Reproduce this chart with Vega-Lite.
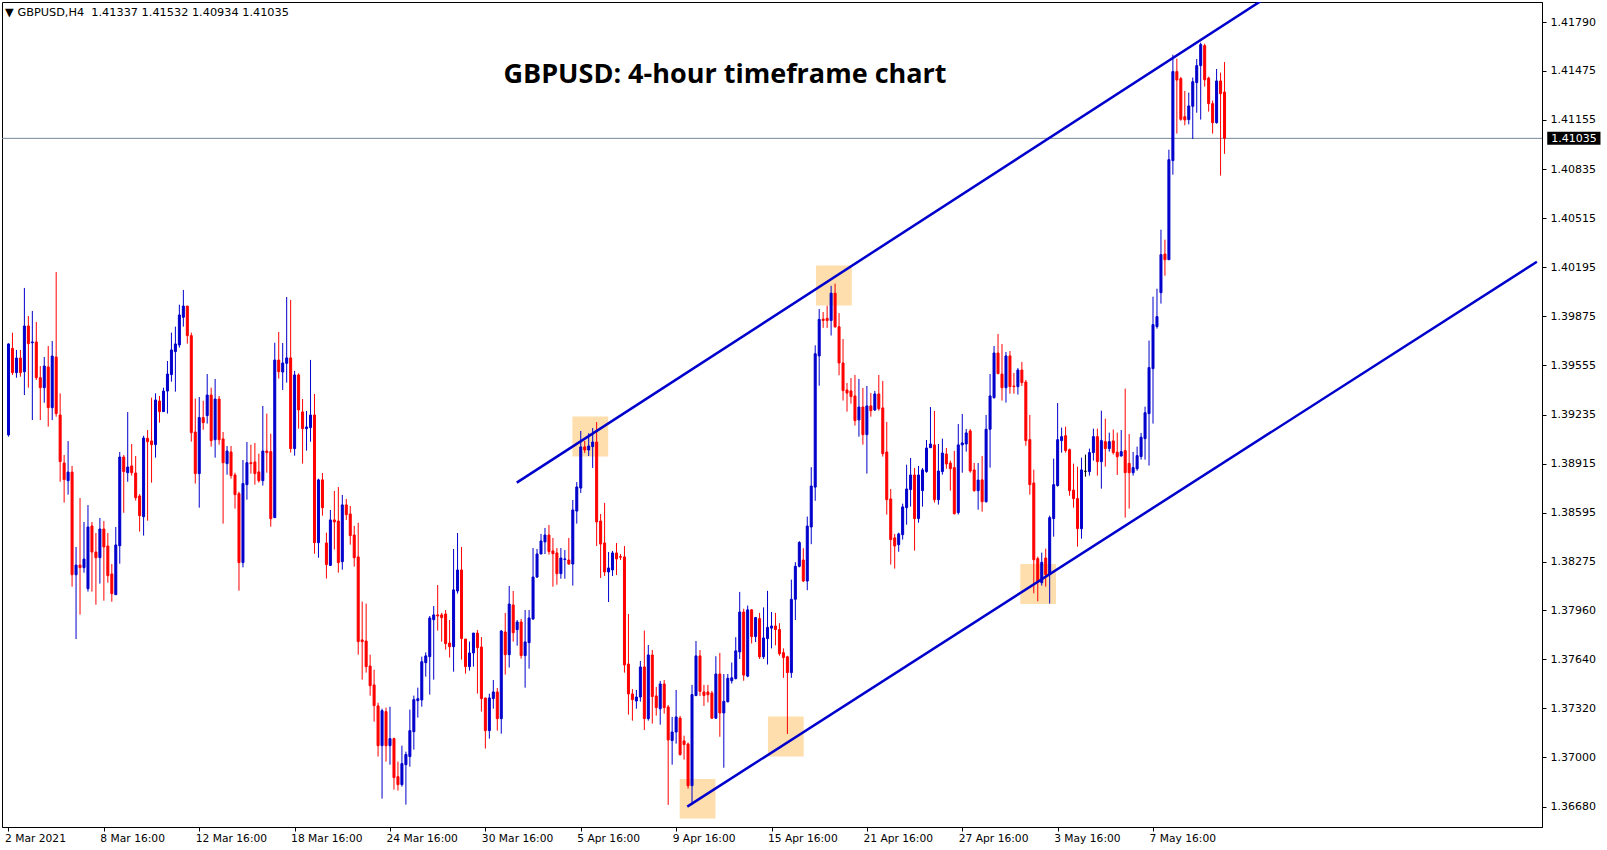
{
"$schema":"https://vega.github.io/schema/vega-lite/v6.json",
"width":1540,"height":825,
"padding":{"left":2,"top":2,"right":65,"bottom":23},
"autosize":{"type":"none"},
"background":"white",
"config":{"view":{"stroke":"#000000","strokeWidth":1},
"axis":{"labelFont":"DejaVu Sans","labelFontSize":11,"labelColor":"#000000","domainColor":"#000000","tickColor":"#000000","tickSize":4,"grid":false,"title":null,"labelOverlap":false,"labelFlush":false,"labelBound":false}},
"datasets":{
"candles":[
{"i":0,"o":1.39102,"h":1.39699,"l":1.39091,"c":1.39695},
{"i":1,"o":1.39666,"h":1.39768,"l":1.39493,"c":1.39508},
{"i":2,"o":1.39508,"h":1.39656,"l":1.39475,"c":1.39603},
{"i":3,"o":1.39603,"h":1.39656,"l":1.39482,"c":1.39508},
{"i":4,"o":1.39514,"h":1.40060,"l":1.39362,"c":1.39812},
{"i":5,"o":1.39812,"h":1.39877,"l":1.39410,"c":1.39697},
{"i":6,"o":1.39703,"h":1.39910,"l":1.39199,"c":1.39708},
{"i":7,"o":1.39708,"h":1.39838,"l":1.39460,"c":1.39475},
{"i":8,"o":1.39475,"h":1.39551,"l":1.39199,"c":1.39410},
{"i":9,"o":1.39410,"h":1.39610,"l":1.39312,"c":1.39551},
{"i":10,"o":1.39545,"h":1.39682,"l":1.39156,"c":1.39280},
{"i":11,"o":1.39280,"h":1.39714,"l":1.39199,"c":1.39616},
{"i":12,"o":1.39610,"h":1.40164,"l":1.39221,"c":1.39241},
{"i":13,"o":1.39232,"h":1.39373,"l":1.38797,"c":1.38928},
{"i":14,"o":1.38919,"h":1.38971,"l":1.38661,"c":1.38811},
{"i":15,"o":1.38804,"h":1.39062,"l":1.38713,"c":1.38860},
{"i":16,"o":1.38860,"h":1.38900,"l":1.38113,"c":1.38191},
{"i":17,"o":1.38191,"h":1.38372,"l":1.37772,"c":1.38254},
{"i":18,"o":1.38254,"h":1.38691,"l":1.37931,"c":1.38237},
{"i":19,"o":1.38237,"h":1.38535,"l":1.38204,"c":1.38293},
{"i":20,"o":1.38100,"h":1.38645,"l":1.38081,"c":1.38502},
{"i":21,"o":1.38509,"h":1.38535,"l":1.38081,"c":1.38339},
{"i":22,"o":1.38339,"h":1.38463,"l":1.37996,"c":1.38302},
{"i":23,"o":1.38302,"h":1.38561,"l":1.38133,"c":1.38489},
{"i":24,"o":1.38489,"h":1.38541,"l":1.38022,"c":1.38372},
{"i":25,"o":1.38378,"h":1.38463,"l":1.38139,"c":1.38185},
{"i":26,"o":1.38196,"h":1.38261,"l":1.38015,"c":1.38068},
{"i":27,"o":1.38061,"h":1.38502,"l":1.38061,"c":1.38385},
{"i":28,"o":1.38380,"h":1.38991,"l":1.38263,"c":1.38958},
{"i":29,"o":1.38958,"h":1.38971,"l":1.38595,"c":1.38863},
{"i":30,"o":1.38856,"h":1.39251,"l":1.38797,"c":1.38893},
{"i":31,"o":1.38900,"h":1.39043,"l":1.38837,"c":1.38856},
{"i":32,"o":1.38854,"h":1.38965,"l":1.38674,"c":1.38693},
{"i":33,"o":1.38704,"h":1.38717,"l":1.38472,"c":1.38576},
{"i":34,"o":1.38569,"h":1.39097,"l":1.38446,"c":1.39082},
{"i":35,"o":1.39080,"h":1.39134,"l":1.38543,"c":1.39058},
{"i":36,"o":1.39063,"h":1.39345,"l":1.38791,"c":1.39039},
{"i":37,"o":1.39039,"h":1.39373,"l":1.38954,"c":1.39330},
{"i":38,"o":1.39323,"h":1.39356,"l":1.39182,"c":1.39254},
{"i":39,"o":1.39254,"h":1.39410,"l":1.39254,"c":1.39388},
{"i":40,"o":1.39388,"h":1.39584,"l":1.39241,"c":1.39499},
{"i":41,"o":1.39495,"h":1.39769,"l":1.39449,"c":1.39656},
{"i":42,"o":1.39645,"h":1.39808,"l":1.39384,"c":1.39695},
{"i":43,"o":1.39688,"h":1.39951,"l":1.39671,"c":1.39884},
{"i":44,"o":1.39869,"h":1.40047,"l":1.39808,"c":1.39942},
{"i":45,"o":1.39942,"h":1.39942,"l":1.39697,"c":1.39749},
{"i":46,"o":1.39749,"h":1.39769,"l":1.39058,"c":1.39117},
{"i":47,"o":1.39121,"h":1.39339,"l":1.38785,"c":1.38850},
{"i":48,"o":1.38850,"h":1.39349,"l":1.38628,"c":1.39215},
{"i":49,"o":1.39215,"h":1.39325,"l":1.39136,"c":1.39182},
{"i":50,"o":1.39228,"h":1.39499,"l":1.39176,"c":1.39362},
{"i":51,"o":1.39362,"h":1.39410,"l":1.39026,"c":1.39065},
{"i":52,"o":1.39071,"h":1.39467,"l":1.38954,"c":1.39336},
{"i":53,"o":1.39336,"h":1.39356,"l":1.39039,"c":1.39071},
{"i":54,"o":1.39076,"h":1.39121,"l":1.38524,"c":1.38921},
{"i":55,"o":1.38915,"h":1.39030,"l":1.38843,"c":1.38997},
{"i":56,"o":1.38991,"h":1.39030,"l":1.38817,"c":1.38837},
{"i":57,"o":1.38841,"h":1.38856,"l":1.38622,"c":1.38713},
{"i":58,"o":1.38719,"h":1.38732,"l":1.38087,"c":1.38270},
{"i":59,"o":1.38270,"h":1.38939,"l":1.38239,"c":1.38785},
{"i":60,"o":1.38778,"h":1.39056,"l":1.38680,"c":1.38921},
{"i":61,"o":1.38921,"h":1.39039,"l":1.38850,"c":1.38915},
{"i":62,"o":1.38926,"h":1.39050,"l":1.38778,"c":1.38850},
{"i":63,"o":1.38861,"h":1.38980,"l":1.38791,"c":1.38804},
{"i":64,"o":1.38804,"h":1.39291,"l":1.38772,"c":1.38997},
{"i":65,"o":1.38997,"h":1.39241,"l":1.38856,"c":1.38987},
{"i":66,"o":1.38993,"h":1.39110,"l":1.38504,"c":1.38556},
{"i":67,"o":1.38563,"h":1.39703,"l":1.38563,"c":1.39590},
{"i":68,"o":1.39590,"h":1.39773,"l":1.39469,"c":1.39514},
{"i":69,"o":1.39512,"h":1.39701,"l":1.39395,"c":1.39571},
{"i":70,"o":1.39569,"h":1.40001,"l":1.39443,"c":1.39604},
{"i":71,"o":1.39604,"h":1.39982,"l":1.38987,"c":1.39013},
{"i":72,"o":1.39013,"h":1.39519,"l":1.38967,"c":1.39493},
{"i":73,"o":1.39493,"h":1.39504,"l":1.39143,"c":1.39265},
{"i":74,"o":1.39252,"h":1.39336,"l":1.38915,"c":1.39143},
{"i":75,"o":1.39143,"h":1.39258,"l":1.39000,"c":1.39154},
{"i":76,"o":1.39150,"h":1.39591,"l":1.39058,"c":1.39232},
{"i":77,"o":1.39232,"h":1.39369,"l":1.38328,"c":1.38400},
{"i":78,"o":1.38400,"h":1.38817,"l":1.38302,"c":1.38809},
{"i":79,"o":1.38809,"h":1.38854,"l":1.38576,"c":1.38628},
{"i":80,"o":1.38398,"h":1.38465,"l":1.38166,"c":1.38257},
{"i":81,"o":1.38252,"h":1.38613,"l":1.38248,"c":1.38548},
{"i":82,"o":1.38548,"h":1.38737,"l":1.38355,"c":1.38535},
{"i":83,"o":1.38541,"h":1.38763,"l":1.38205,"c":1.38270},
{"i":84,"o":1.38276,"h":1.38711,"l":1.38224,"c":1.38646},
{"i":85,"o":1.38646,"h":1.38685,"l":1.38548,"c":1.38583},
{"i":86,"o":1.38587,"h":1.38639,"l":1.38387,"c":1.38446},
{"i":87,"o":1.38450,"h":1.38509,"l":1.38244,"c":1.38302},
{"i":88,"o":1.38307,"h":1.38530,"l":1.37670,"c":1.37755},
{"i":89,"o":1.37766,"h":1.38016,"l":1.37507,"c":1.37755},
{"i":90,"o":1.37759,"h":1.38003,"l":1.37553,"c":1.37592},
{"i":91,"o":1.37596,"h":1.37670,"l":1.37403,"c":1.37468},
{"i":92,"o":1.37473,"h":1.37572,"l":1.37234,"c":1.37338},
{"i":93,"o":1.37336,"h":1.37357,"l":1.37006,"c":1.37077},
{"i":94,"o":1.37077,"h":1.37318,"l":1.36732,"c":1.37305},
{"i":95,"o":1.37299,"h":1.37325,"l":1.36973,"c":1.37077},
{"i":96,"o":1.37077,"h":1.37331,"l":1.36953,"c":1.37123},
{"i":97,"o":1.37123,"h":1.37129,"l":1.36790,"c":1.36869},
{"i":98,"o":1.36875,"h":1.36973,"l":1.36784,"c":1.36823},
{"i":99,"o":1.36823,"h":1.37077,"l":1.36810,"c":1.36960},
{"i":100,"o":1.36953,"h":1.37038,"l":1.36693,"c":1.37019},
{"i":101,"o":1.37006,"h":1.37312,"l":1.36940,"c":1.37175},
{"i":102,"o":1.37168,"h":1.37403,"l":1.37051,"c":1.37377},
{"i":103,"o":1.37370,"h":1.37455,"l":1.37260,"c":1.37383},
{"i":104,"o":1.37375,"h":1.37657,"l":1.37331,"c":1.37624},
{"i":105,"o":1.37618,"h":1.37685,"l":1.37527,"c":1.37662},
{"i":106,"o":1.37657,"h":1.37922,"l":1.37410,"c":1.37909},
{"i":107,"o":1.37898,"h":1.37987,"l":1.37507,"c":1.37929},
{"i":108,"o":1.37929,"h":1.38124,"l":1.37827,"c":1.37922},
{"i":109,"o":1.37929,"h":1.37942,"l":1.37755,"c":1.37911},
{"i":110,"o":1.37935,"h":1.37961,"l":1.37703,"c":1.37742},
{"i":111,"o":1.37746,"h":1.37896,"l":1.37651,"c":1.37722},
{"i":112,"o":1.37722,"h":1.38359,"l":1.37559,"c":1.38092},
{"i":113,"o":1.38085,"h":1.38463,"l":1.38068,"c":1.38222},
{"i":114,"o":1.38222,"h":1.38372,"l":1.37638,"c":1.37775},
{"i":115,"o":1.37772,"h":1.37772,"l":1.37546,"c":1.37592},
{"i":116,"o":1.37592,"h":1.37755,"l":1.37566,"c":1.37681},
{"i":117,"o":1.37681,"h":1.37811,"l":1.37592,"c":1.37811},
{"i":118,"o":1.37811,"h":1.37831,"l":1.37416,"c":1.37716},
{"i":119,"o":1.37720,"h":1.37785,"l":1.37299,"c":1.37384},
{"i":120,"o":1.37388,"h":1.37388,"l":1.37058,"c":1.37175},
{"i":121,"o":1.37175,"h":1.37416,"l":1.37123,"c":1.37388},
{"i":122,"o":1.37384,"h":1.37505,"l":1.37318,"c":1.37427},
{"i":123,"o":1.37427,"h":1.37453,"l":1.37175,"c":1.37253},
{"i":124,"o":1.37253,"h":1.37831,"l":1.37155,"c":1.37824},
{"i":125,"o":1.37818,"h":1.37942,"l":1.37540,"c":1.37670},
{"i":126,"o":1.37670,"h":1.38118,"l":1.37586,"c":1.38000},
{"i":127,"o":1.37994,"h":1.38085,"l":1.37755,"c":1.37813},
{"i":128,"o":1.37833,"h":1.37896,"l":1.37729,"c":1.37883},
{"i":129,"o":1.37883,"h":1.37903,"l":1.37644,"c":1.37664},
{"i":130,"o":1.37664,"h":1.37961,"l":1.37455,"c":1.37753},
{"i":131,"o":1.37748,"h":1.37961,"l":1.37579,"c":1.37909},
{"i":132,"o":1.37903,"h":1.38365,"l":1.37896,"c":1.38176},
{"i":133,"o":1.38176,"h":1.38359,"l":1.38170,"c":1.38326},
{"i":134,"o":1.38326,"h":1.38457,"l":1.38326,"c":1.38411},
{"i":135,"o":1.38405,"h":1.38496,"l":1.38326,"c":1.38450},
{"i":136,"o":1.38450,"h":1.38515,"l":1.38322,"c":1.38342},
{"i":137,"o":1.38346,"h":1.38431,"l":1.38113,"c":1.38328},
{"i":138,"o":1.38333,"h":1.38365,"l":1.38126,"c":1.38198},
{"i":139,"o":1.38198,"h":1.38365,"l":1.38165,"c":1.38300},
{"i":140,"o":1.38290,"h":1.38352,"l":1.38165,"c":1.38294},
{"i":141,"o":1.38287,"h":1.38431,"l":1.38255,"c":1.38261},
{"i":142,"o":1.38261,"h":1.38678,"l":1.38120,"c":1.38613},
{"i":143,"o":1.38606,"h":1.38795,"l":1.38524,"c":1.38763},
{"i":144,"o":1.38756,"h":1.39128,"l":1.38724,"c":1.39024},
{"i":145,"o":1.39024,"h":1.39063,"l":1.38984,"c":1.39004},
{"i":146,"o":1.39004,"h":1.39113,"l":1.38965,"c":1.39030},
{"i":147,"o":1.39026,"h":1.39147,"l":1.38887,"c":1.39056},
{"i":148,"o":1.39056,"h":1.39186,"l":1.38378,"c":1.38535},
{"i":149,"o":1.38541,"h":1.38587,"l":1.38170,"c":1.38391},
{"i":150,"o":1.38398,"h":1.38659,"l":1.38183,"c":1.38209},
{"i":151,"o":1.38209,"h":1.38339,"l":1.38013,"c":1.38235},
{"i":152,"o":1.38222,"h":1.38346,"l":1.38183,"c":1.38333},
{"i":153,"o":1.38333,"h":1.38398,"l":1.38189,"c":1.38294},
{"i":154,"o":1.38309,"h":1.38326,"l":1.38287,"c":1.38305},
{"i":155,"o":1.38307,"h":1.38378,"l":1.37553,"c":1.37603},
{"i":156,"o":1.37609,"h":1.37935,"l":1.37279,"c":1.37414},
{"i":157,"o":1.37414,"h":1.37446,"l":1.37240,"c":1.37377},
{"i":158,"o":1.37368,"h":1.37440,"l":1.37318,"c":1.37394},
{"i":159,"o":1.37394,"h":1.37629,"l":1.37364,"c":1.37590},
{"i":160,"o":1.37590,"h":1.37827,"l":1.37179,"c":1.37253},
{"i":161,"o":1.37253,"h":1.37733,"l":1.37240,"c":1.37668},
{"i":162,"o":1.37668,"h":1.37701,"l":1.37221,"c":1.37397},
{"i":163,"o":1.37401,"h":1.37460,"l":1.37273,"c":1.37325},
{"i":164,"o":1.37318,"h":1.37499,"l":1.37214,"c":1.37479},
{"i":165,"o":1.37479,"h":1.37505,"l":1.37286,"c":1.37325},
{"i":166,"o":1.37329,"h":1.37342,"l":1.36691,"c":1.37114},
{"i":167,"o":1.37110,"h":1.37264,"l":1.36953,"c":1.37166},
{"i":168,"o":1.37166,"h":1.37440,"l":1.37090,"c":1.37264},
{"i":169,"o":1.37257,"h":1.37271,"l":1.37012,"c":1.37019},
{"i":170,"o":1.37108,"h":1.37142,"l":1.36986,"c":1.37084},
{"i":171,"o":1.37088,"h":1.37097,"l":1.36797,"c":1.36816},
{"i":172,"o":1.36816,"h":1.37473,"l":1.36691,"c":1.37410},
{"i":173,"o":1.37403,"h":1.37759,"l":1.37403,"c":1.37662},
{"i":174,"o":1.37662,"h":1.37700,"l":1.37400,"c":1.37430},
{"i":175,"o":1.37427,"h":1.37473,"l":1.37336,"c":1.37404},
{"i":176,"o":1.37427,"h":1.37473,"l":1.37359,"c":1.37409},
{"i":177,"o":1.37420,"h":1.37434,"l":1.37251,"c":1.37256},
{"i":178,"o":1.37256,"h":1.37660,"l":1.37251,"c":1.37544},
{"i":179,"o":1.37544,"h":1.37681,"l":1.37135,"c":1.37290},
{"i":180,"o":1.37290,"h":1.37544,"l":1.36933,"c":1.37366},
{"i":181,"o":1.37363,"h":1.37544,"l":1.37359,"c":1.37516},
{"i":182,"o":1.37500,"h":1.37619,"l":1.37482,"c":1.37519},
{"i":183,"o":1.37514,"h":1.37784,"l":1.37509,"c":1.37695},
{"i":184,"o":1.37688,"h":1.38079,"l":1.37642,"c":1.37948},
{"i":185,"o":1.37948,"h":1.37969,"l":1.37500,"c":1.37537},
{"i":186,"o":1.37530,"h":1.37990,"l":1.37523,"c":1.37962},
{"i":187,"o":1.37962,"h":1.37967,"l":1.37743,"c":1.37788},
{"i":188,"o":1.37788,"h":1.37916,"l":1.37752,"c":1.37912},
{"i":189,"o":1.37905,"h":1.37942,"l":1.37642,"c":1.37656},
{"i":190,"o":1.37656,"h":1.37978,"l":1.37642,"c":1.37779},
{"i":191,"o":1.37775,"h":1.38086,"l":1.37606,"c":1.37848},
{"i":192,"o":1.37843,"h":1.37948,"l":1.37711,"c":1.37857},
{"i":193,"o":1.37857,"h":1.37942,"l":1.37731,"c":1.37834},
{"i":194,"o":1.37834,"h":1.37875,"l":1.37663,"c":1.37676},
{"i":195,"o":1.37683,"h":1.37711,"l":1.37519,"c":1.37651},
{"i":196,"o":1.37656,"h":1.37663,"l":1.37153,"c":1.37553},
{"i":197,"o":1.37553,"h":1.38159,"l":1.37519,"c":1.38031},
{"i":198,"o":1.38031,"h":1.38273,"l":1.37896,"c":1.38246},
{"i":199,"o":1.38246,"h":1.38410,"l":1.38239,"c":1.38401},
{"i":200,"o":1.38287,"h":1.38364,"l":1.38143,"c":1.38150},
{"i":201,"o":1.38150,"h":1.38570,"l":1.38090,"c":1.38508},
{"i":202,"o":1.38502,"h":1.38892,"l":1.38390,"c":1.38769},
{"i":203,"o":1.38762,"h":1.39686,"l":1.38673,"c":1.39631},
{"i":204,"o":1.39617,"h":1.39923,"l":1.39423,"c":1.39855},
{"i":205,"o":1.39857,"h":1.39903,"l":1.39800,"c":1.39848},
{"i":206,"o":1.39862,"h":1.39944,"l":1.39800,"c":1.39848},
{"i":207,"o":1.39848,"h":1.40074,"l":1.39750,"c":1.40026},
{"i":208,"o":1.40026,"h":1.40088,"l":1.39800,"c":1.39807},
{"i":209,"o":1.39807,"h":1.39896,"l":1.39491,"c":1.39571},
{"i":210,"o":1.39571,"h":1.39727,"l":1.39326,"c":1.39391},
{"i":211,"o":1.39395,"h":1.39441,"l":1.39254,"c":1.39375},
{"i":212,"o":1.39389,"h":1.39473,"l":1.39306,"c":1.39352},
{"i":213,"o":1.39356,"h":1.39493,"l":1.39163,"c":1.39195},
{"i":214,"o":1.39200,"h":1.39467,"l":1.39091,"c":1.39284},
{"i":215,"o":1.39284,"h":1.39408,"l":1.39039,"c":1.39104},
{"i":216,"o":1.39104,"h":1.39421,"l":1.38850,"c":1.39291},
{"i":217,"o":1.39291,"h":1.39375,"l":1.39221,"c":1.39260},
{"i":218,"o":1.39265,"h":1.39389,"l":1.39258,"c":1.39369},
{"i":219,"o":1.39369,"h":1.39493,"l":1.39260,"c":1.39273},
{"i":220,"o":1.39278,"h":1.39454,"l":1.38961,"c":1.38980},
{"i":221,"o":1.38991,"h":1.39187,"l":1.38583,"c":1.38680},
{"i":222,"o":1.38685,"h":1.38750,"l":1.38257,"c":1.38420},
{"i":223,"o":1.38431,"h":1.38457,"l":1.38231,"c":1.38378},
{"i":224,"o":1.38387,"h":1.38465,"l":1.38341,"c":1.38457},
{"i":225,"o":1.38452,"h":1.38654,"l":1.38420,"c":1.38633},
{"i":226,"o":1.38628,"h":1.38908,"l":1.38517,"c":1.38750},
{"i":227,"o":1.38746,"h":1.38952,"l":1.38635,"c":1.38841},
{"i":228,"o":1.38841,"h":1.38887,"l":1.38348,"c":1.38557},
{"i":229,"o":1.38557,"h":1.38900,"l":1.38530,"c":1.38841},
{"i":230,"o":1.38739,"h":1.38887,"l":1.38635,"c":1.38874},
{"i":231,"o":1.38863,"h":1.39069,"l":1.38856,"c":1.39017},
{"i":232,"o":1.39019,"h":1.39284,"l":1.39019,"c":1.39043},
{"i":233,"o":1.39037,"h":1.39258,"l":1.38661,"c":1.38680},
{"i":234,"o":1.38680,"h":1.39043,"l":1.38648,"c":1.38867},
{"i":235,"o":1.38863,"h":1.39078,"l":1.38843,"c":1.38984},
{"i":236,"o":1.38978,"h":1.39017,"l":1.38882,"c":1.38913},
{"i":237,"o":1.38919,"h":1.38935,"l":1.38739,"c":1.38882},
{"i":238,"o":1.38889,"h":1.38998,"l":1.38583,"c":1.38589},
{"i":239,"o":1.38596,"h":1.39173,"l":1.38583,"c":1.39037},
{"i":240,"o":1.39037,"h":1.39239,"l":1.38856,"c":1.39050},
{"i":241,"o":1.39043,"h":1.39141,"l":1.38993,"c":1.39115},
{"i":242,"o":1.39128,"h":1.39141,"l":1.38856,"c":1.38867},
{"i":243,"o":1.38874,"h":1.38919,"l":1.38732,"c":1.38739},
{"i":244,"o":1.38739,"h":1.38919,"l":1.38615,"c":1.38808},
{"i":245,"o":1.38809,"h":1.38965,"l":1.38602,"c":1.38667},
{"i":246,"o":1.38667,"h":1.39232,"l":1.38661,"c":1.39139},
{"i":247,"o":1.39139,"h":1.39499,"l":1.38889,"c":1.39356},
{"i":248,"o":1.39345,"h":1.39682,"l":1.39339,"c":1.39636},
{"i":249,"o":1.39636,"h":1.39760,"l":1.39497,"c":1.39502},
{"i":250,"o":1.39499,"h":1.39695,"l":1.39326,"c":1.39410},
{"i":251,"o":1.39410,"h":1.39643,"l":1.39313,"c":1.39617},
{"i":252,"o":1.39617,"h":1.39649,"l":1.39371,"c":1.39417},
{"i":253,"o":1.39421,"h":1.39506,"l":1.39371,"c":1.39417},
{"i":254,"o":1.39417,"h":1.39538,"l":1.39365,"c":1.39525},
{"i":255,"o":1.39525,"h":1.39578,"l":1.39421,"c":1.39443},
{"i":256,"o":1.39447,"h":1.39460,"l":1.39032,"c":1.39065},
{"i":257,"o":1.39071,"h":1.39232,"l":1.38713,"c":1.38778},
{"i":258,"o":1.38789,"h":1.38876,"l":1.38070,"c":1.38289},
{"i":259,"o":1.38296,"h":1.38309,"l":1.38018,"c":1.38146},
{"i":260,"o":1.38139,"h":1.38335,"l":1.38120,"c":1.38272},
{"i":261,"o":1.38300,"h":1.38361,"l":1.38113,"c":1.38192},
{"i":262,"o":1.38192,"h":1.38576,"l":1.38003,"c":1.38563},
{"i":263,"o":1.38557,"h":1.38948,"l":1.38439,"c":1.38778},
{"i":264,"o":1.38772,"h":1.39310,"l":1.38765,"c":1.39071},
{"i":265,"o":1.39065,"h":1.39150,"l":1.38987,"c":1.39091},
{"i":266,"o":1.39097,"h":1.39156,"l":1.38987,"c":1.39000},
{"i":267,"o":1.39006,"h":1.39013,"l":1.38706,"c":1.38739},
{"i":268,"o":1.38743,"h":1.38915,"l":1.38628,"c":1.38687},
{"i":269,"o":1.38687,"h":1.38895,"l":1.38374,"c":1.38491},
{"i":270,"o":1.38491,"h":1.38954,"l":1.38426,"c":1.38874},
{"i":271,"o":1.38865,"h":1.38974,"l":1.38830,"c":1.38865},
{"i":272,"o":1.38863,"h":1.39013,"l":1.38837,"c":1.38987},
{"i":273,"o":1.38987,"h":1.39143,"l":1.38935,"c":1.39091},
{"i":274,"o":1.39091,"h":1.39143,"l":1.38837,"c":1.38928},
{"i":275,"o":1.38928,"h":1.39260,"l":1.38752,"c":1.39065},
{"i":276,"o":1.39058,"h":1.39208,"l":1.38895,"c":1.39013},
{"i":277,"o":1.39013,"h":1.39117,"l":1.38993,"c":1.39058},
{"i":278,"o":1.39063,"h":1.39137,"l":1.38974,"c":1.38987},
{"i":279,"o":1.38990,"h":1.39117,"l":1.38841,"c":1.38960},
{"i":280,"o":1.38965,"h":1.39134,"l":1.38961,"c":1.38993},
{"i":281,"o":1.39000,"h":1.39404,"l":1.38563,"c":1.38856},
{"i":282,"o":1.38917,"h":1.39108,"l":1.38622,"c":1.38856},
{"i":283,"o":1.38856,"h":1.38991,"l":1.38837,"c":1.38889},
{"i":284,"o":1.38882,"h":1.39026,"l":1.38869,"c":1.38967},
{"i":285,"o":1.38961,"h":1.39115,"l":1.38941,"c":1.39087},
{"i":286,"o":1.39078,"h":1.39286,"l":1.38941,"c":1.39247},
{"i":287,"o":1.39241,"h":1.39717,"l":1.38902,"c":1.39541},
{"i":288,"o":1.39534,"h":1.40003,"l":1.39176,"c":1.39821},
{"i":289,"o":1.39808,"h":1.40055,"l":1.39795,"c":1.39873},
{"i":290,"o":1.40029,"h":1.40440,"l":1.39958,"c":1.40277},
{"i":291,"o":1.40281,"h":1.40375,"l":1.40140,"c":1.40244},
{"i":292,"o":1.40244,"h":1.40961,"l":1.40244,"c":1.40896},
{"i":293,"o":1.40890,"h":1.41580,"l":1.40798,"c":1.41470},
{"i":294,"o":1.41470,"h":1.41554,"l":1.41066,"c":1.41415},
{"i":295,"o":1.41424,"h":1.41435,"l":1.41150,"c":1.41159},
{"i":296,"o":1.41176,"h":1.41344,"l":1.41120,"c":1.41155},
{"i":297,"o":1.41157,"h":1.41333,"l":1.41126,"c":1.41246},
{"i":298,"o":1.41244,"h":1.41431,"l":1.41031,"c":1.41404},
{"i":299,"o":1.41398,"h":1.41552,"l":1.41202,"c":1.41509},
{"i":300,"o":1.41509,"h":1.41659,"l":1.41157,"c":1.41646},
{"i":301,"o":1.41639,"h":1.41652,"l":1.41372,"c":1.41417},
{"i":302,"o":1.41428,"h":1.41437,"l":1.41209,"c":1.41261},
{"i":303,"o":1.41261,"h":1.41281,"l":1.41066,"c":1.41137},
{"i":304,"o":1.41137,"h":1.41487,"l":1.41131,"c":1.41409},
{"i":305,"o":1.41409,"h":1.41463,"l":1.40792,"c":1.41326},
{"i":306,"o":1.41337,"h":1.41532,"l":1.40934,"c":1.41035}
],
"boxes":[
{"x1":141.9,"x2":150.9,"p1":1.39222,"p2":1.38962},
{"x1":203.2,"x2":212.2,"p1":1.40206,"p2":1.39946},
{"x1":191.1,"x2":200.1,"p1":1.37267,"p2":1.37007},
{"x1":168.9,"x2":177.9,"p1":1.36860,"p2":1.36602},
{"x1":254.6,"x2":263.6,"p1":1.38261,"p2":1.38000}
],
"trend":[
{"id":"upper","i":127.9,"p":1.38791},
{"id":"upper","i":330,"p":1.42179},
{"id":"lower","i":170.8,"p":1.36680},
{"id":"lower","i":384.6,"p":1.40231}
],
"last":[{"p":1.41035}],
"labels":[
{"t":"GBPUSD: 4-hour timeframe chart","i":180.3,"p":1.41449},
{"t":"▼ GBPUSD,H4\u00a0\u00a01.41337 1.41532 1.40934 1.41035","i":-0.85,"p":1.41854}
]
},
"layer":[
{"data":{"name":"boxes"},
 "mark":{"type":"rect","fill":"#FFDEAD","stroke":null},
 "encoding":{
  "x":{"field":"x1","type":"quantitative","scale":{"domain":[-0.375,384.625],"nice":false,"zero":false},
    "axis":{"orient":"bottom","values":[0,24,48,72,96,120,144,168,192,216,240,264,288],
      "labelExpr":"['2 Mar 2021','8 Mar 16:00','12 Mar 16:00','18 Mar 16:00','24 Mar 16:00','30 Mar 16:00','5 Apr 16:00','9 Apr 16:00','15 Apr 16:00','21 Apr 16:00','27 Apr 16:00','3 May 16:00','7 May 16:00'][round(datum.value/24)]",
      "labelAlign":"left","labelPadding":2,"labelBaseline":"top","labelOffset":-4,"labelFontSize":10.7}},
  "x2":{"field":"x2"},
  "y":{"field":"p1","type":"quantitative","scale":{"domain":[1.365469,1.419236],"nice":false,"zero":false},
    "axis":{"orient":"right","values":[1.3668,1.37,1.3732,1.3764,1.3796,1.38275,1.38595,1.38915,1.39235,1.39555,1.39875,1.40195,1.40515,1.40835,1.41155,1.41475,1.4179],
      "format":".5f","labelPadding":4}},
  "y2":{"field":"p2"}}},
{"data":{"name":"last"},
 "mark":{"type":"rule","color":"#778899","strokeWidth":1},
 "encoding":{"y":{"field":"p","type":"quantitative"}}},
{"data":{"name":"candles"},
 "mark":{"type":"rule","strokeWidth":1},
 "encoding":{
  "x":{"field":"i","type":"quantitative"},
  "y":{"field":"l","type":"quantitative"},
  "y2":{"field":"h"},
  "color":{"condition":[{"test":"datum.c == datum.o","value":"#000000"},{"test":"datum.c > datum.o","value":"#0000CC"}],"value":"#FF0000"}}},
{"data":{"name":"candles"},
 "mark":{"type":"bar","width":2,"strokeWidth":1,"orient":"vertical"},
 "encoding":{
  "x":{"field":"i","type":"quantitative"},
  "y":{"field":"o","type":"quantitative"},
  "y2":{"field":"c"},
  "fill":{"condition":[{"test":"datum.c == datum.o","value":"#000000"},{"test":"datum.c > datum.o","value":"#0000CC"}],"value":"#FF0000"},
  "stroke":{"condition":[{"test":"datum.c == datum.o","value":"#000000"},{"test":"datum.c > datum.o","value":"#0000CC"}],"value":"#FF0000"}}},
{"data":{"name":"trend"},
 "mark":{"type":"line","color":"#0000CC","strokeWidth":2.5,"clip":true},
 "encoding":{
  "x":{"field":"i","type":"quantitative"},
  "y":{"field":"p","type":"quantitative"},
  "detail":{"field":"id"}}},
{"data":{"name":"last"},
 "mark":{"type":"rule","color":"#000000","strokeWidth":13,"strokeCap":"butt"},
 "encoding":{
  "x":{"datum":387.2,"type":"quantitative"},
  "x2":{"datum":400.6},
  "y":{"field":"p","type":"quantitative"}}},
{"data":{"name":"last"},
 "mark":{"type":"text","color":"#FFFFFF","font":"DejaVu Sans","fontSize":11,"align":"left","baseline":"middle","dy":1},
 "encoding":{
  "x":{"datum":388.2,"type":"quantitative"},
  "y":{"field":"p","type":"quantitative"},
  "text":{"field":"p","format":".5f"}}},
{"data":{"name":"labels"},
 "transform":[{"filter":"datum.i > 100"}],
 "mark":{"type":"text","color":"#000000","font":"Open Sans","fontSize":27,"fontWeight":"bold","align":"center","baseline":"middle"},
 "encoding":{
  "x":{"field":"i","type":"quantitative"},
  "y":{"field":"p","type":"quantitative"},
  "text":{"field":"t"}}},
{"data":{"name":"labels"},
 "transform":[{"filter":"datum.i < 100"}],
 "mark":{"type":"text","color":"#000000","font":"DejaVu Sans","fontSize":11.3,"align":"left","baseline":"middle"},
 "encoding":{
  "x":{"field":"i","type":"quantitative"},
  "y":{"field":"p","type":"quantitative"},
  "text":{"field":"t"}}}
]
}
